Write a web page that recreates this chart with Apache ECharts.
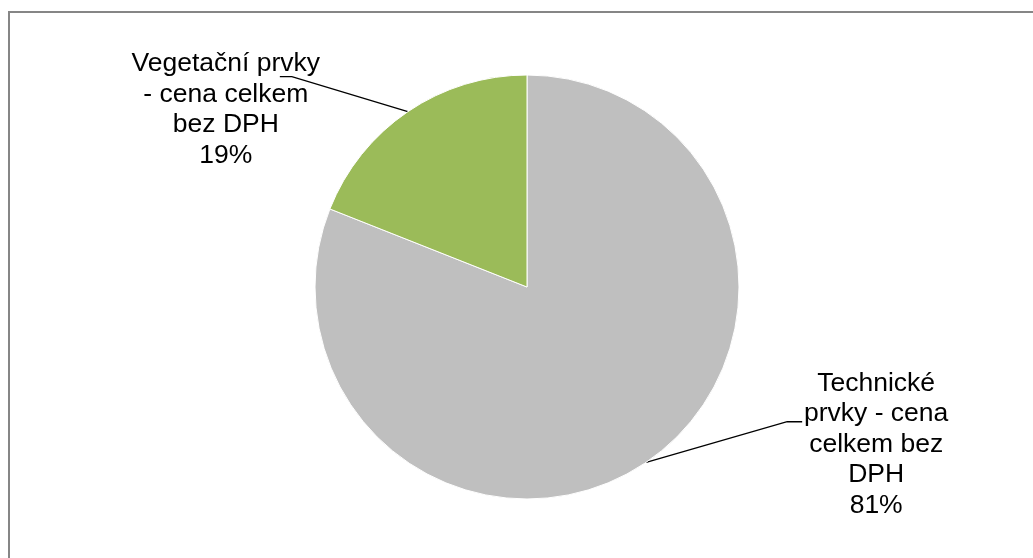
<!DOCTYPE html>
<html>
<head>
<meta charset="utf-8">
<script src="https://cdn.jsdelivr.net/npm/echarts@6/dist/echarts.min.js"></script>
<style>
html,body{margin:0;padding:0;background:#fff;}
#c{width:1033px;height:558px;}
</style>
</head>
<body>
<div id="c"></div>
<script>
// Data
const categories = ['Technické\nprvky - cena\ncelkem bez\nDPH', 'Vegetační prvky\n- cena celkem\nbez DPH'];
const values = [81, 19];
const colors = ['#BFBFBF', '#9BBB59'];

// Label placement relative to slice edge point (styling only)
const labelOffsets = [
  { dx: 230, dy: -18, line: [[141, -40.6], [156, -40.6]] },
  { dx: -182, dy: -2, line: [[-116, -35], [-128, -35]] }
];

const chart = echarts.init(document.getElementById('c'), null, { renderer: 'canvas' });
chart.setOption({
  animation: false,
  backgroundColor: '#ffffff',
  textStyle: { fontFamily: 'Liberation Sans, Arial, sans-serif' },
  graphic: [{
    type: 'rect',
    shape: { x: 9, y: 12, width: 1200, height: 800 },
    style: { fill: 'none', stroke: '#868686', lineWidth: 2 },
    silent: true
  }],
  series: [{
    type: 'pie',
    center: [527, 287],
    radius: [0, 212],
    startAngle: 90,
    clockwise: true,
    percentPrecision: 0,
    itemStyle: { borderColor: '#ffffff', borderWidth: 1 },
    label: {
      show: true,
      position: 'outside',
      formatter: '{b}\n{d}%',
      fontSize: 26.5,
      lineHeight: 30.5,
      color: '#000000',
      fontFamily: 'Liberation Sans, Arial, sans-serif',
      align: 'center'
    },
    labelLine: {
      show: true,
      length: 20,
      length2: 20,
      lineStyle: { color: '#000000', width: 1.3 }
    },
    labelLayout: function (p) {
      const o = labelOffsets[p.dataIndex];
      const pts = p.labelLinePoints;
      if (!pts) return {};
      const s = pts[0];
      return {
        x: s[0] + o.dx,
        y: s[1] + o.dy,
        align: 'center',
        verticalAlign: 'middle',
        labelLinePoints: [
          [s[0], s[1]],
          [s[0] + o.line[0][0], s[1] + o.line[0][1]],
          [s[0] + o.line[1][0], s[1] + o.line[1][1]]
        ]
      };
    },
    data: categories.map((c, i) => ({ name: c, value: values[i], itemStyle: { color: colors[i] } }))
  }]
});
</script>
</body>
</html>
